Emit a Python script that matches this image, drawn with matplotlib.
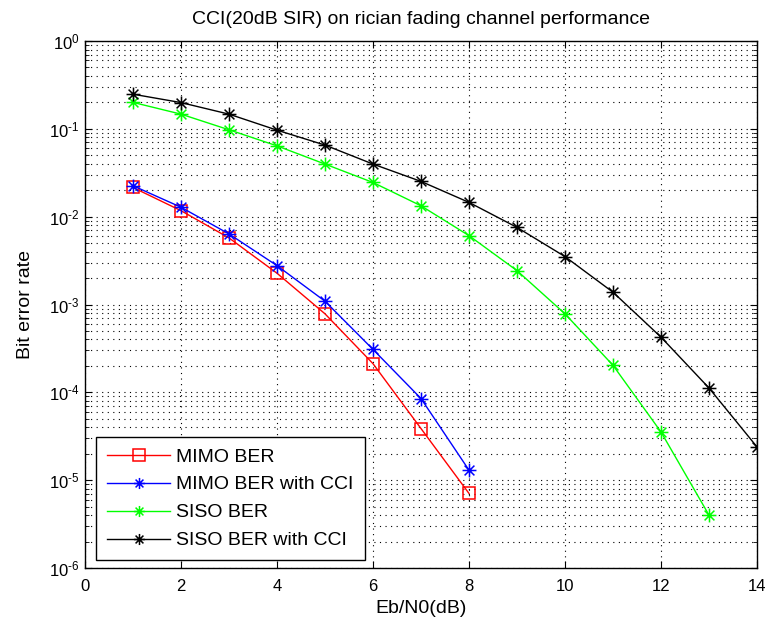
import matplotlib
matplotlib.use("Agg")
import matplotlib.pyplot as plt
from matplotlib.path import Path
from matplotlib.ticker import LogLocator, FixedLocator, NullFormatter, FuncFormatter
import numpy as np

plt.rcParams['font.family'] = ['Liberation Sans', 'DejaVu Sans']
plt.rcParams['axes.unicode_minus'] = False
plt.rcParams['mathtext.fontset'] = 'custom'
plt.rcParams['mathtext.rm'] = 'Liberation Sans'
plt.rcParams['mathtext.default'] = 'regular'

snr_mimo = [1, 2, 3, 4, 5, 6, 7, 8]
mimo_ber = [0.0215, 0.0117, 0.00573, 0.00227, 0.000783, 0.000212, 3.87e-5, 7.06e-6]
mimo_ber_cci = [0.0225, 0.0128, 0.00636, 0.00277, 0.00109, 0.000308, 8.5e-5, 1.3e-5]

snr_siso = [1, 2, 3, 4, 5, 6, 7, 8, 9, 10, 11, 12, 13]
siso_ber = [0.20, 0.147, 0.0975, 0.064, 0.0397, 0.0245, 0.0133, 0.00608,
            0.00243, 0.000783, 0.000203, 3.54e-5, 4.0e-6]

snr_siso_cci = [1, 2, 3, 4, 5, 6, 7, 8, 9, 10, 11, 12, 13, 14]
siso_ber_cci = [0.248, 0.199, 0.147, 0.0966, 0.0653, 0.0397, 0.0252, 0.01454,
                0.00755, 0.00351, 0.00138, 0.000425, 0.000112, 2.39e-5]

xticks = [0, 2, 4, 6, 8, 10, 12, 14]

# MATLAB-style asterisk marker (8 arms)
d = 0.7071
ast_verts = [(-1, 0), (1, 0), (0, -1), (0, 1), (-d, -d), (d, d), (-d, d), (d, -d)]
ast_codes = [Path.MOVETO, Path.LINETO] * 4
asterisk = Path(ast_verts, ast_codes)

fig = plt.figure(figsize=(7.69, 6.31), dpi=100)
ax = fig.add_axes([85/769, 1-568/631, (757-85)/769, (568-41)/631])

ax.semilogy(snr_mimo, mimo_ber, color='red', lw=1, marker='s', ms=8.5,
            mfc='none', mec='red', mew=1.1, label='MIMO BER')
ax.semilogy(snr_mimo, mimo_ber_cci, color='blue', lw=1, marker=asterisk, ms=10,
            mew=1.1, label='MIMO BER with CCI')
ax.semilogy(snr_siso, siso_ber, color='#00ff00', lw=1, marker=asterisk, ms=10,
            mew=1.1, label='SISO BER')
ax.semilogy(snr_siso_cci, siso_ber_cci, color='black', lw=1, marker=asterisk, ms=10,
            mew=1.1, label='SISO BER with CCI')

ax.set_xlim(0, 14)
ax.set_ylim(1e-6, 1)
ax.xaxis.set_major_locator(FixedLocator(xticks))
ax.yaxis.set_major_locator(LogLocator(base=10, numticks=10))
ax.yaxis.set_minor_locator(LogLocator(base=10, subs=range(2, 10), numticks=100))
ax.yaxis.set_minor_formatter(NullFormatter())

def fmt(v, pos):
    e = int(round(np.log10(v)))
    if e < 0:
        return r'$10^{\text{-}%d}$' % (-e)
    return r'$10^{%d}$' % e

ax.yaxis.set_major_formatter(FuncFormatter(fmt))

ax.grid(True, which='major', axis='both', color='black', linestyle=(0, (1, 4)), lw=0.8)
ax.grid(True, which='minor', axis='y', color='black', linestyle=(0, (1, 4)), lw=0.8)

ax.tick_params(which='both', direction='in', top=True, right=True, labelsize=12)
ax.tick_params(axis='x', which='major', pad=8)
ax.tick_params(axis='y', which='major', pad=4)
ax.tick_params(which='major', length=5)
ax.tick_params(which='minor', length=3)
for s in ax.spines.values():
    s.set_linewidth(1.0)

ax.set_title('CCI(20dB SIR) on rician fading channel performance', fontsize=14, pad=12)
ax.set_xlabel('Eb/N0(dB)', fontsize=14, labelpad=4)
ax.set_ylabel('Bit error rate', fontsize=14, labelpad=11)

leg = ax.legend(loc='lower left', bbox_to_anchor=(11/672, 8/527), fontsize=14,
                handlelength=3.28, handletextpad=0.31, fancybox=False,
                framealpha=1, edgecolor='black', borderaxespad=0,
                labelspacing=0.53, borderpad=0.55)
leg.get_frame().set_linewidth(1.0)
for h in leg.legend_handles:
    if h.get_marker() is not None and not isinstance(h.get_marker(), str):
        h.set_markersize(8)

fig.savefig('out.png', dpi=100)
